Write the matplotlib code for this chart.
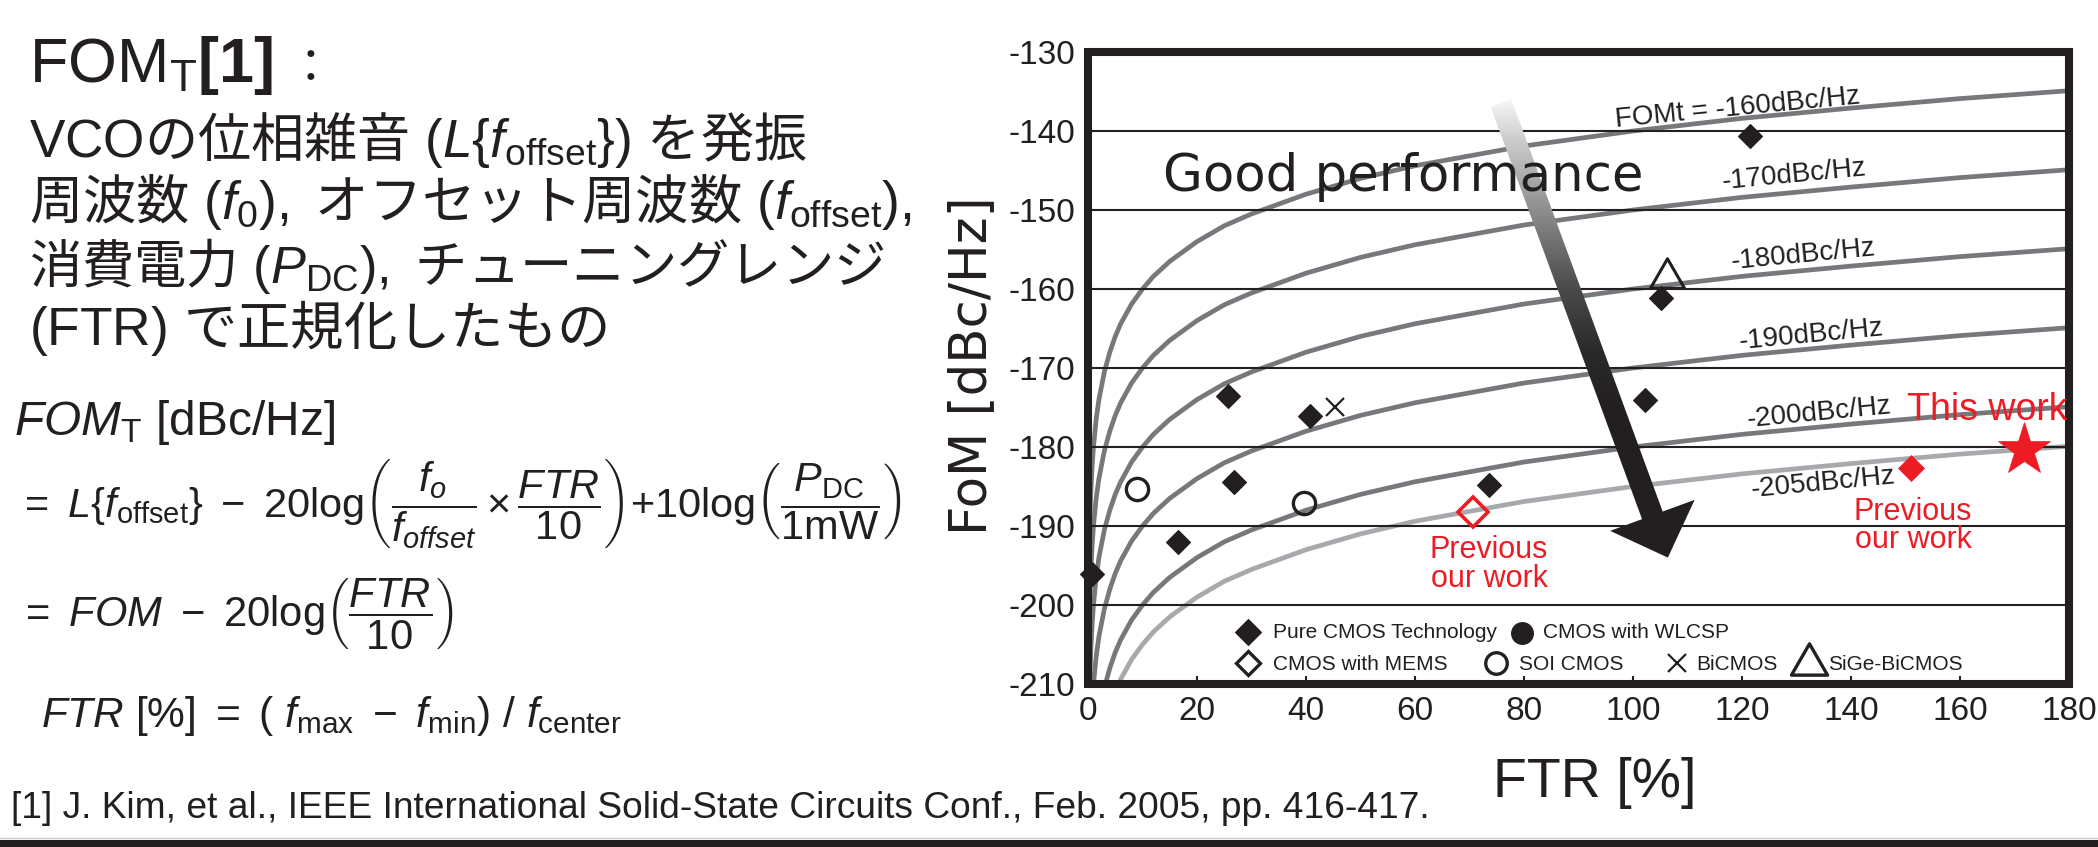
import numpy as np
import matplotlib
matplotlib.use("Agg")
import matplotlib.pyplot as plt
from matplotlib.patches import Polygon, Rectangle
from matplotlib.path import Path
from matplotlib.markers import MarkerStyle
from matplotlib.colors import LinearSegmentedColormap
from matplotlib.lines import Line2D

# ---------------- data ----------------
x_ticks = [0, 20, 40, 60, 80, 100, 120, 140, 160, 180]
y_ticks = [-130, -140, -150, -160, -170, -180, -190, -200, -210]

# constant-FOMt contours (FOM vs FTR)
curve_labels = ["FOMt = -160dBc/Hz", "-170dBc/Hz", "-180dBc/Hz",
                "-190dBc/Hz", "-200dBc/Hz", "-205dBc/Hz"]
curve_ftr = [0.03, 0.05, 0.1, 0.2, 0.3, 0.5, 0.75, 1, 1.5, 2, 3, 4, 5, 6, 8,
             10, 12, 15, 20, 25, 30, 40, 50, 60, 80, 100, 120, 140, 160, 180]
fom_160 = [-210.5, -206.0, -200.0, -194.0, -190.5, -186.0, -182.5, -180.0,
           -176.5, -174.0, -170.5, -168.0, -166.0, -164.4, -161.9, -160.0,
           -158.4, -156.5, -154.0, -152.0, -150.5, -148.0, -146.0, -144.4,
           -141.9, -140.0, -138.4, -137.1, -135.9, -134.9]
fom_170 = [None, -216.0, -210.0, -204.0, -200.5, -196.0, -192.5, -190.0,
           -186.5, -184.0, -180.5, -178.0, -176.0, -174.4, -171.9, -170.0,
           -168.4, -166.5, -164.0, -162.0, -160.5, -158.0, -156.0, -154.4,
           -151.9, -150.0, -148.4, -147.1, -145.9, -144.9]
fom_180 = [None, None, None, None, -210.5, -206.0, -202.5, -200.0,
           -196.5, -194.0, -190.5, -188.0, -186.0, -184.4, -181.9, -180.0,
           -178.4, -176.5, -174.0, -172.0, -170.5, -168.0, -166.0, -164.4,
           -161.9, -160.0, -158.4, -157.1, -155.9, -154.9]
fom_190 = [None, None, None, None, None, None, -212.5, -210.0,
           -206.5, -204.0, -200.5, -198.0, -196.0, -194.4, -191.9, -190.0,
           -188.4, -186.5, -184.0, -182.0, -180.5, -178.0, -176.0, -174.4,
           -171.9, -170.0, -168.4, -167.1, -165.9, -164.9]
fom_200 = [None, None, None, None, None, None, None, None,
           None, None, -210.5, -208.0, -206.0, -204.4, -201.9, -200.0,
           -198.4, -196.5, -194.0, -192.0, -190.5, -188.0, -186.0, -184.4,
           -181.9, -180.0, -178.4, -177.1, -175.9, -174.9]
fom_205 = [None, None, None, None, None, None, None, None,
           None, None, None, None, -211.0, -209.4, -206.9, -205.0,
           -203.4, -201.5, -199.0, -197.0, -195.5, -193.0, -191.0, -189.4,
           -186.9, -185.0, -183.4, -182.1, -180.9, -179.9]

# published VCOs
pure_cmos_ftr = [0.7, 16.5, 25.7, 26.8, 40.7, 73.6, 102.2, 105.1, 121.5]
pure_cmos_fom = [-196.1, -192.0, -173.5, -184.4, -176.1, -184.8, -174.1, -161.2, -140.6]
soi_ftr = [8.9, 39.6]
soi_fom = [-185.3, -187.1]
bicmos_ftr = [45.3]
bicmos_fom = [-174.9]
sige_ftr = [106.2]
sige_fom = [-158.0]
# our designs
prev_mems_ftr = [70.6]
prev_mems_fom = [-188.2]
prev_pure_ftr = [151.1]
prev_pure_fom = [-182.7]
this_work_ftr = [171.8]
this_work_fom = [-180.4]

legend_labels = ["Pure CMOS Technology", "CMOS with WLCSP", "CMOS with MEMS",
                 "SOI CMOS", "BiCMOS", "SiGe-BiCMOS"]

# ---------------- style ----------------
W, H, DPI = 2098, 847, 100
INK = "#231f20"
RED = "#ed1c24"
GRAY = "#77787b"
LIGHT = "#a7a9ac"

plt.rcParams["font.family"] = ["Liberation Sans", "Noto Sans CJK JP", "DejaVu Sans"]
plt.rcParams["axes.unicode_minus"] = False
plt.rcParams["mathtext.fontset"] = "custom"
plt.rcParams["mathtext.rm"] = "Liberation Sans"
plt.rcParams["mathtext.it"] = "Liberation Sans:italic"
plt.rcParams["mathtext.bf"] = "Liberation Sans:bold"
plt.rcParams["mathtext.sf"] = "Noto Sans CJK JP"

fig = plt.figure(figsize=(W / DPI, H / DPI), dpi=DPI, facecolor="white")
renderer = fig.canvas.get_renderer()

# ---------------- chart ----------------
L, R, T, B = 1088, 2069, 52, 684
ax = fig.add_axes([L / W, 1 - B / H, (R - L) / W, (B - T) / H])
ax.set_xlim(0, 180)
ax.set_ylim(-210, -130)
ax.set_xticks(x_ticks)
ax.set_yticks(y_ticks)
ax.tick_params(axis="x", direction="in", length=6, width=1.5, color=INK,
               pad=8.5, labelsize=24, labelcolor=INK)
ax.tick_params(axis="y", length=0, pad=9, labelsize=24, labelcolor=INK)
for sp in ax.spines.values():
    sp.set_visible(False)
ax.add_patch(Rectangle((0, 0), 1, 1, transform=ax.transAxes, fill=False,
                       lw=5.8, ec=INK, joinstyle="miter", zorder=3.5,
                       clip_on=False))
ax.set_axisbelow(False)
ax.yaxis.grid(True, color=INK, lw=1.5)

curves = [fom_160, fom_170, fom_180, fom_190, fom_200, fom_205]
curve_colors = [GRAY, GRAY, GRAY, GRAY, GRAY, LIGHT]
for fom, col in zip(curves, curve_colors):
    ax.plot(curve_ftr, np.array(fom, dtype=float), color=col, lw=3.4,
            solid_joinstyle="round", zorder=2)

# contour labels
label_pos = [(119.3, -138.0), (129.7, -146.5), (131.4, -156.6),
             (132.8, -166.7), (134.3, -176.6), (135.0, -185.4)]
for text, (lx, ly) in zip(curve_labels, label_pos):
    ax.text(lx, ly, text, fontsize=20, color=INK, rotation=5.5,
            rotation_mode="anchor", ha="center", va="baseline", zorder=5)

# "Good performance" arrow with a light-to-dark shading
arrow_start = (75.8, -136.5)
arrow_tip = (106.4, -194.0)
p0 = ax.transData.transform(arrow_start)
p1 = ax.transData.transform(arrow_tip)
d = p1 - p0
u = d / np.hypot(*d)
n = np.array([-u[1], u[0]])
shaft_half, head_half, head_len = 11.0, 45.0, 45.0
base = p1 - head_len * u
outline = np.array([p0 + shaft_half * n, base + shaft_half * n,
                    base + head_half * n, p1, base - head_half * n,
                    base - shaft_half * n, p0 - shaft_half * n])
outline_data = ax.transData.inverted().transform(outline)
arrow_patch = Polygon(outline_data, closed=True, facecolor="none",
                      edgecolor="none", transform=ax.transData)
ax.add_patch(arrow_patch)
shade = LinearSegmentedColormap.from_list(
    "shade", [(0.0, "#f6f6f6"), (0.08, "#cfcfcf"), (0.24, "#8e8e8e"),
              (0.41, "#4b4b4b"), (0.55, "#2a2a2a"), (0.68, INK), (1.0, INK)])
xmin, ymin = outline_data.min(axis=0)
xmax, ymax = outline_data.max(axis=0)
grad = np.linspace(0, 1, 400)[:, None]
img = ax.imshow(grad, cmap=shade, extent=[xmin, xmax, ymin, ymax],
                aspect="auto", origin="upper", interpolation="bilinear",
                zorder=3)
img.set_clip_path(arrow_patch)
ax.set_xlim(0, 180)
ax.set_ylim(-210, -130)

ax.text(13.8, -147.6, "Good performance", fontsize=37, color=INK,
        family="DejaVu Sans", ha="left", va="baseline", zorder=6)

# markers
def mstyle(m):
    return MarkerStyle(m, joinstyle="miter")

tri = Path([(0, 0.433), (-0.5, -0.433), (0.5, -0.433), (0, 0.433)],
           [Path.MOVETO, Path.LINETO, Path.LINETO, Path.CLOSEPOLY])

ax.plot(pure_cmos_ftr, pure_cmos_fom, ls="none", marker=mstyle("D"), ms=12.5,
        mfc=INK, mec=INK, mew=0.8, zorder=4, clip_on=False)
ax.plot(soi_ftr, soi_fom, ls="none", marker="o", ms=16, mfc="none", mec=INK,
        mew=2.4, zorder=4)
ax.plot(bicmos_ftr, bicmos_fom, ls="none", marker="x", ms=13, mec=INK,
        mew=1.6, zorder=4)
ax.plot(sige_ftr, sige_fom, ls="none", marker=mstyle(tri), ms=24.5,
        mfc="none", mec=INK, mew=2.2, zorder=4)
ax.plot(prev_mems_ftr, prev_mems_fom, ls="none", marker=mstyle("D"), ms=15,
        mfc="none", mec=RED, mew=2.6, zorder=4)
ax.plot(prev_pure_ftr, prev_pure_fom, ls="none", marker=mstyle("D"), ms=13,
        mfc=RED, mec=RED, mew=0.5, zorder=4)
ax.plot(this_work_ftr, this_work_fom, ls="none", marker="*", ms=40,
        mfc=RED, mec=RED, mew=0.5, zorder=4, clip_on=False)

ax.text(150.3, -176.6, "This work", fontsize=27, color=RED, ha="left",
        va="baseline", zorder=6)
for cx, y1, y2 in [(73.6, -194.1, -197.7), (151.4, -189.2, -192.8)]:
    ax.text(cx, y1, "Previous", fontsize=22, color=RED, ha="center",
            va="baseline", zorder=6)
    ax.text(cx, y2, "our work", fontsize=22, color=RED, ha="center",
            va="baseline", zorder=6)

# legend drawn inside the frame
def afrac(x, y):
    return (x - L) / (R - L), (B - y) / (B - T)

legend_layout = [
    (mstyle("D"), dict(ms=13, mfc=INK, mec=INK, mew=0.8), (1248, 632), (1273, 638)),
    ("o", dict(ms=15.5, mfc=INK, mec=INK, mew=1.0), (1522, 633), (1543, 638)),
    (mstyle("D"), dict(ms=12.5, mfc="white", mec=INK, mew=2.4), (1248, 663), (1273, 670)),
    ("o", dict(ms=15.5, mfc="white", mec=INK, mew=2.4), (1496, 663), (1519, 670)),
    ("x", dict(ms=12.5, mec=INK, mew=1.6), (1677, 663), (1696, 670)),
    (mstyle(tri), dict(ms=26, mfc="white", mec=INK, mew=2.4), (1809, 659), (1828, 670)),
]
for (mk, kw, mpos, tpos), lab in zip(legend_layout, legend_labels):
    mx, my = afrac(*mpos)
    ax.plot([mx], [my], ls="none", marker=mk, transform=ax.transAxes,
            zorder=6, clip_on=False, **kw)
    tx, ty = afrac(*tpos)
    ax.text(tx, ty, lab, transform=ax.transAxes, fontsize=15, color=INK,
            ha="left", va="baseline", zorder=6)

# axis titles
fig.text(1595 / W, 1 - 797 / H, "FTR [%]", fontsize=40, color=INK,
         ha="center", va="baseline")
fig.text(986 / W, 1 - 366 / H, "FoM [dBc/Hz]", fontsize=37, color=INK,
         family="DejaVu Sans", rotation=90, rotation_mode="anchor",
         ha="center", va="baseline")

# ---------------- left-hand explanation ----------------
def fit_text(s, x0, x1, baseline, size0=30.0, **kw):
    t = fig.text(x0 / W, 1 - baseline / H, s, fontsize=size0, ha="left",
                 va="baseline", color=INK, **kw)
    w = t.get_window_extent(renderer=renderer).width
    t.set_fontsize(size0 * (x1 - x0) / w)
    return t

fit_text(r"$\mathrm{FOM}_{\mathrm{T}}\mathbf{[1]}$", 29, 274, 82)
fig.text(311 / W, 1 - 82 / H, "：", fontsize=33, color=INK,
         family=["Noto Sans CJK JP"], ha="center", va="baseline")

fit_text(r"$\mathrm{VCO}\mathsf{の位相雑音}\ (\mathit{L}\{\mathit{f}_{\mathrm{offset}}\})\ \mathsf{を発振}$",
         29, 808, 157)
fit_text(r"$\mathsf{周波数}\ (\mathit{f}_{\mathrm{0}}),\ \mathsf{オフセット周波数}\ (\mathit{f}_{\mathrm{offset}}),$",
         29, 912, 219)
fit_text(r"$\mathsf{消費電力}\ (\mathit{P}_{\mathrm{DC}}),\ \mathsf{チューニングレンジ}$",
         29, 885, 283)
fit_text(r"$(\mathrm{FTR})\ \mathsf{で正規化したもの}$", 29, 607, 345)

fit_text(r"$\mathit{FOM}_{\mathrm{T}}\ [\mathrm{dBc/Hz}]$", 14, 335, 435)
fit_text(r"$=\ \mathit{L}\{\mathit{f}_{\mathrm{offset}}\}\ -\ \mathrm{20log}"
         r"\left(\dfrac{\mathit{f}_{\mathit{o}}}{\mathit{f}_{\mathit{offset}}}"
         r"\times\dfrac{\mathit{FTR}}{\mathrm{10}}\right)\mathrm{+10log}"
         r"\left(\dfrac{\mathit{P}_{\mathrm{DC}}}{\mathrm{1mW}}\right)$",
         18, 904, 517)
fit_text(r"$=\ \mathit{FOM}\ -\ \mathrm{20log}\left(\dfrac{\mathit{FTR}}{\mathrm{10}}\right)$",
         19, 453, 627)
fit_text(r"$\mathit{FTR}\ [\%]\ =\ (\ \mathit{f}_{\mathrm{max}}\ -\ \mathit{f}_{\mathrm{min}})\ /\ \mathit{f}_{\mathrm{center}}$",
         41, 622, 727)

fit_text("[1] J. Kim, et al., IEEE International Solid-State Circuits Conf., "
         "Feb. 2005, pp. 416-417.", 11, 1427, 818)

# slide footer band
fig.patches.append(Rectangle((0, 0), 1, 7 / H, transform=fig.transFigure,
                             facecolor=INK, edgecolor="none"))
fig.lines.append(Line2D([0, 1], [9.5 / H, 9.5 / H], transform=fig.transFigure,
                        color="#c8c8c8", lw=1.0))

fig.savefig("out.png", dpi=DPI, facecolor="white")
